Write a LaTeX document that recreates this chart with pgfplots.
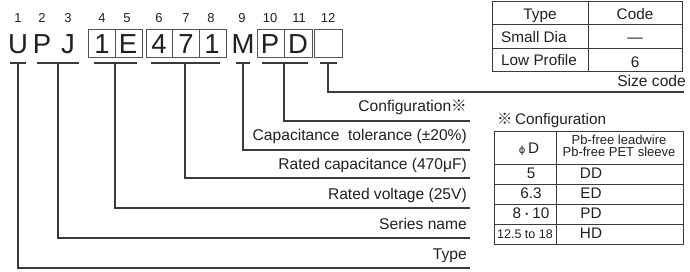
\documentclass[border=0pt]{standalone}
\usepackage{fontspec}
\setmainfont{Liberation Sans}
\newfontfamily\cjk{Noto Sans CJK JP}
\newfontfamily\dejavu{DejaVu Sans}
\usepackage{pgfplots}
\pgfplotsset{compat=1.18}
\definecolor{ink}{HTML}{231F20}
\definecolor{lin}{HTML}{3A3A3A}
\definecolor{bx}{HTML}{555555}
\tikzset{
  lead/.style={color=lin,line width=1.3pt},
  uline/.style={color=lin,line width=2pt},
  tab/.style={color=lin,line width=0.9pt}}
\begin{document}
\begin{tikzpicture}
\begin{axis}[width=690pt,height=271pt,scale only axis,
  xmin=0,xmax=690,ymin=0,ymax=271,y dir=reverse,hide axis,clip=false]
\path (axis cs:0,0) rectangle (axis cs:690,271);
% position digits
\foreach \n/\x in {1/18,2/42,3/68,4/102,5/127,6/159,7/186,8/211,9/242,10/270,11/299,12/328}{
  \edef\temp{\noexpand\node[anchor=base,inner sep=0,text=ink,font=\noexpand\fontsize{13}{14}\noexpand\selectfont] at (axis cs:\x,22) {\n};}
  \temp
}
% big letters
\foreach \c/\x in {U/18,P/42,J/68,1/102,E/128,4/159,7/186,1/212,M/243,P/270,D/298}{
  \edef\temp{\noexpand\node[anchor=base,inner sep=0,text=ink,font=\noexpand\fontsize{27.5}{30}\noexpand\selectfont] at (axis cs:\x,53) {\c};}
  \temp
}
% boxes
\draw[bx,line width=1pt] (axis cs:88,29) rectangle (axis cs:142,57);
\draw[bx,line width=1pt] (axis cs:115,29) -- (axis cs:115,57);
\draw[bx,line width=1pt] (axis cs:146,29) rectangle (axis cs:226,57);
\draw[bx,line width=1pt] (axis cs:172,29) -- (axis cs:172,57);
\draw[bx,line width=1pt] (axis cs:199,29) -- (axis cs:199,57);
\draw[bx,line width=1pt] (axis cs:257,29) rectangle (axis cs:312,57);
\draw[bx,line width=1pt] (axis cs:284,29) -- (axis cs:284,57);
\draw[bx,line width=1pt] (axis cs:314,29) rectangle (axis cs:342,57);
% underlines
\addplot[uline,no marks] coordinates {(10,63) (26,63)};
\addplot[uline,no marks] coordinates {(37,63) (79,63)};
\addplot[uline,no marks] coordinates {(94,63) (137,63)};
\addplot[uline,no marks] coordinates {(151,63) (220,63)};
\addplot[uline,no marks] coordinates {(236,63) (250,63)};
\addplot[uline,no marks] coordinates {(262,63) (308,63)};
\addplot[uline,no marks] coordinates {(320,63) (337,63)};
% leader lines
\addplot[lead,no marks] coordinates {(18,63) (18,268) (470,268)};
\addplot[lead,no marks] coordinates {(58,63) (58,238) (470,238)};
\addplot[lead,no marks] coordinates {(115,63) (115,208) (470,208)};
\addplot[lead,no marks] coordinates {(185,63) (185,178) (470,178)};
\addplot[lead,no marks] coordinates {(243,63) (243,150) (470,150)};
\addplot[lead,no marks] coordinates {(284,63) (284,121) (470,121)};
\addplot[lead,no marks] coordinates {(328,63) (328,92) (684,92)};
% labels
\begin{scope}[every node/.style={anchor=base east,inner sep=0,text=ink,font=\fontsize{15.6}{18}\selectfont}]
\node at (axis cs:467,259) {Type};
\node at (axis cs:467,229) {Series name};
\node at (axis cs:467,199) {Rated voltage (25V)};
\node at (axis cs:467,169) {Rated capacitance (470μF)};
\node at (axis cs:467,140) {Capacitance\ \ tolerance (±20\%)};
\node at (axis cs:467,111) {Configuration{\cjk ※}};
\node at (axis cs:686,86) {Size code};
\end{scope}
% top table
\draw[tab] (axis cs:492,1) rectangle (axis cs:682,71);
\draw[tab] (axis cs:588,1) -- (axis cs:588,71);
\draw[tab] (axis cs:492,24) -- (axis cs:682,24);
\draw[tab] (axis cs:492,48) -- (axis cs:682,48);
\begin{scope}[every node/.style={inner sep=0,text=ink,font=\fontsize{15.3}{18}\selectfont}]
\node[anchor=base] at (axis cs:540,19) {Type};
\node[anchor=base] at (axis cs:635,19) {Code};
\node[anchor=base west] at (axis cs:501,42) {Small Dia};
\node[anchor=base] at (axis cs:635,42) {—};
\node[anchor=base west] at (axis cs:501,65) {Low Profile};
\node[anchor=base] at (axis cs:635,67) {6};
% config table
\node[anchor=base west] at (axis cs:497,124) {{\cjk ※}\,Configuration};
\end{scope}
\draw[tab] (axis cs:494,131) rectangle (axis cs:683,244);
\draw[tab] (axis cs:556,131) -- (axis cs:556,244);
\draw[tab] (axis cs:494,164) -- (axis cs:683,164);
\draw[tab] (axis cs:494,184) -- (axis cs:683,184);
\draw[tab] (axis cs:494,204) -- (axis cs:683,204);
\draw[tab] (axis cs:494,224) -- (axis cs:683,224);
\begin{scope}[every node/.style={inner sep=0,text=ink,font=\fontsize{15.3}{18}\selectfont}]
\node[anchor=base] at (axis cs:529,153) {{\dejavu\fontsize{10}{12}\selectfont ϕ}\,D};
\node[anchor=base] at (axis cs:619,144) {\fontsize{13}{13}\selectfont Pb-free leadwire};
\node[anchor=base] at (axis cs:619,156) {\fontsize{13}{13}\selectfont Pb-free PET sleeve};
\node[anchor=base] at (axis cs:531,178) {5};
\node[anchor=base] at (axis cs:531,198) {6.3};
\node[anchor=base] at (axis cs:531,218) {8{\cjk\fontsize{11}{12}\selectfont ・}10};
\node[anchor=base] at (axis cs:525,238) {\fontsize{12.5}{13}\selectfont 12.5 to 18};
\node[anchor=base] at (axis cs:591,178) {DD};
\node[anchor=base] at (axis cs:591,198) {ED};
\node[anchor=base] at (axis cs:591,218) {PD};
\node[anchor=base] at (axis cs:591,238) {HD};
\end{scope}
\end{axis}
\end{tikzpicture}
\end{document}
